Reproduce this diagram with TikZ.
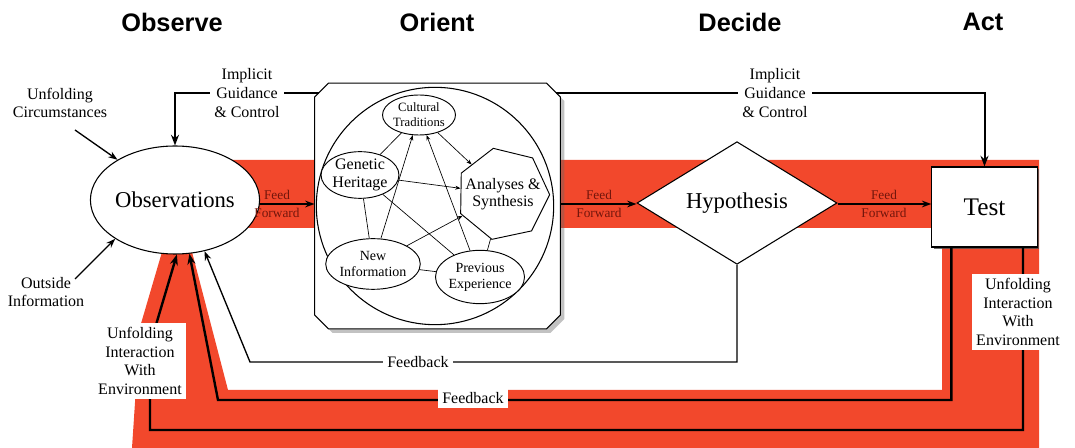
\documentclass[tikz,border=0pt]{standalone}
\usepackage{fontspec}
\setmainfont{Liberation Serif}
\newfontfamily\headfont{Liberation Sans}
\usetikzlibrary{shapes.geometric,shadows,arrows.meta,calc}

\definecolor{loopred}{RGB}{242,72,44}
\definecolor{ffred}{RGB}{115,22,12}

\begin{document}
\begin{tikzpicture}[x=0.75pt,y=0.75pt,yscale=-1,xscale=1,
  headtext/.style={font=\headfont\bfseries\fontsize{19}{22}\selectfont},
  smalltext/.style={align=center,font=\fontsize{12}{14}\selectfont,inner sep=2pt},
  boxtext/.style={smalltext,fill=white,inner sep=3pt},
  fflabel/.style={align=center,text=ffred,font=\fontsize{10}{14}\selectfont},
  bigtext/.style={font=\fontsize{17}{20}\selectfont},
  inellipse/.style={draw,ellipse,fill=white,inner sep=0pt,align=center,line width=0.7pt},
  flow/.style={line width=1.2pt,-{Stealth[length=7pt,width=5pt]}},
  guide/.style={line width=1.5pt,-{Stealth[length=8pt,width=6pt]}},
  envloop/.style={line width=1.8pt,-{Stealth[length=8pt,width=6pt]}},
  thinback/.style={line width=1pt,-{Stealth[length=7pt,width=5pt]}},
  link/.style={line width=0.5pt},
  linkto/.style={link,-{Stealth[length=4pt,width=3pt]}}
]
\useasboundingbox (0,0) rectangle (1075,448);

%Shape: red loop band
\fill[loopred] (230,160) -- (1039,160) -- (1039,448) -- (132,448) -- (140,327) -- (162,252) -- (192,252) -- (228,390) -- (942,390) -- (942,228) -- (230,228) -- cycle;

% Text Node
\node[headtext] (observe) at (172,22) {Observe};
\node[headtext] (orienthead) at (437,22) {Orient};
\node[headtext] (decide) at (740,22) {Decide};
\node[headtext] (act) at (983,22) {Act};

%Shape: Ellipse
\node[draw,ellipse,fill=white,line width=0.8pt,minimum width=102pt,minimum height=81pt,inner sep=0pt,bigtext] (obs) at (175,200) {Observations};
%Shape: Chamfered box
\node[minimum width=184pt,minimum height=184pt,inner sep=0pt] (orient) at (437.5,206) {};
\draw[fill=white,line width=0.8pt,drop shadow={shadow xshift=3pt,shadow yshift=-3pt,opacity=0.4,fill=black!60}]
  ($(orient.north west)+(0,14)$) -- ($(orient.north west)+(14,0)$) -- ($(orient.north east)+(-14,0)$) -- ($(orient.north east)+(0,14)$)
  -- ($(orient.south east)+(0,-14)$) -- ($(orient.south east)+(-14,0)$) -- ($(orient.south west)+(14,0)$) -- ($(orient.south west)+(0,-14)$) -- cycle;
\node[draw,circle,minimum size=178pt,line width=0.8pt] (orientring) at (435,206) {};
\node[inellipse,minimum width=51pt,minimum height=30pt,font=\fontsize{9.5}{11}\selectfont] (cult) at (419,115) {Cultural\\Traditions};
\node[inellipse,minimum width=58pt,minimum height=35pt,font=\fontsize{12}{13}\selectfont] (gene) at (360,175) {Genetic\\Heritage};
\node[draw,regular polygon,regular polygon sides=7,shape border rotate=12,minimum size=70pt,inner sep=0pt,fill=white,line width=0.7pt,
  label={[align=center,font=\fontsize{12}{13}\selectfont]center:Analyses \&\\Synthesis}] (anal) at (503,194) {};
\node[inellipse,minimum width=64pt,minimum height=38pt,font=\fontsize{10.5}{12}\selectfont] (newinfo) at (373,264) {New\\Information};
\node[inellipse,minimum width=60pt,minimum height=40pt,font=\fontsize{10.5}{12}\selectfont] (prev) at (480,277) {Previous\\Experience};
%Shape: Diamond
\node[draw,diamond,fill=white,line width=0.8pt,minimum width=150pt,minimum height=77pt,inner sep=0pt,bigtext] (hyp) at (737,203) {Hypothesis};
%Shape: Rectangle
\node[draw,fill=white,line width=0.8pt,minimum width=79pt,minimum height=60pt,inner sep=0pt,font=\fontsize{19}{22}\selectfont,
  drop shadow={shadow xshift=1.5pt,shadow yshift=-1.5pt,opacity=0.8,fill=black!70}] (test) at (984.5,207) {Test};

%Straight Lines inside orient
\draw[link] (cult) -- (gene);
\draw[linkto] (cult) -- (anal);
\draw[linkto] (newinfo) -- (cult);
\draw[linkto] (prev) -- (cult);
\draw[linkto] (gene) -- (anal);
\draw[link] (gene) -- (newinfo);
\draw[link] (gene) -- (prev);
\draw[linkto] (newinfo) -- (anal);
\draw[link] (prev) -- (anal);
\draw[link] (newinfo) -- (prev);

%Feed forward
\coordinate (ffaxis) at (0,204);
\draw[flow] (obs.east |- ffaxis) -- (orient.west |- ffaxis);
\draw[flow] (orient.east |- ffaxis) -- (hyp.west |- ffaxis);
\draw[flow] (hyp.east |- ffaxis) -- (test.west |- ffaxis);
\node[fflabel] (ffone) at (277,204) {Feed\\Forward};
\node[fflabel] (fftwo) at (599,204) {Feed\\Forward};
\node[fflabel] (ffthree) at (884,204) {Feed\\Forward};

%Implicit guidance
\coordinate (iglft) at (319,93);
\coordinate (igrgt) at (556,93);
\draw[guide] (iglft) -| (obs);
\draw[guide] (igrgt) -| (test);
\node[boxtext] (iglbl) at (247,93) {Implicit\\Guidance\\\& Control};
\node[boxtext] (igrlbl) at (775,93) {Implicit\\Guidance\\\& Control};

%Outside inputs
\node[smalltext] (unfcirc) at (60,103) {Unfolding\\Circumstances};
\coordinate (unfcircfoot) at (75,130);
\draw[thinback] (unfcircfoot) -- (obs.145);
\node[smalltext] (outinfo) at (46,292) {Outside\\Information};
\coordinate (outinfohead) at (75,279);
\draw[thinback] (outinfohead) -- (obs.213);

%Feedback loops
\coordinate (fbone) at (250,362);
\draw[thinback] (hyp.south) |- (fbone) -- (obs.300);
\coordinate (fbtwo) at (218,400);
\draw[envloop] ([xshift=15pt]test.south west) |- (fbtwo) -- (obs.285);
\coordinate (envbottom) at (150,430);
\coordinate (envbend) at (150,345);
\draw[envloop] ([xshift=-11pt]test.south east) |- (envbottom) -- (envbend) -- (obs.272);

\node[boxtext] (fbonelbl) at (418,362) {Feedback};
\node[boxtext] (fbtwolbl) at (473,398) {Feedback};
\node[boxtext] (envleft) at (140,361) {Unfolding\\Interaction\\With\\Environment};
\node[boxtext] (envright) at (1018,312) {Unfolding\\Interaction\\With\\Environment};

\end{tikzpicture}
\end{document}
